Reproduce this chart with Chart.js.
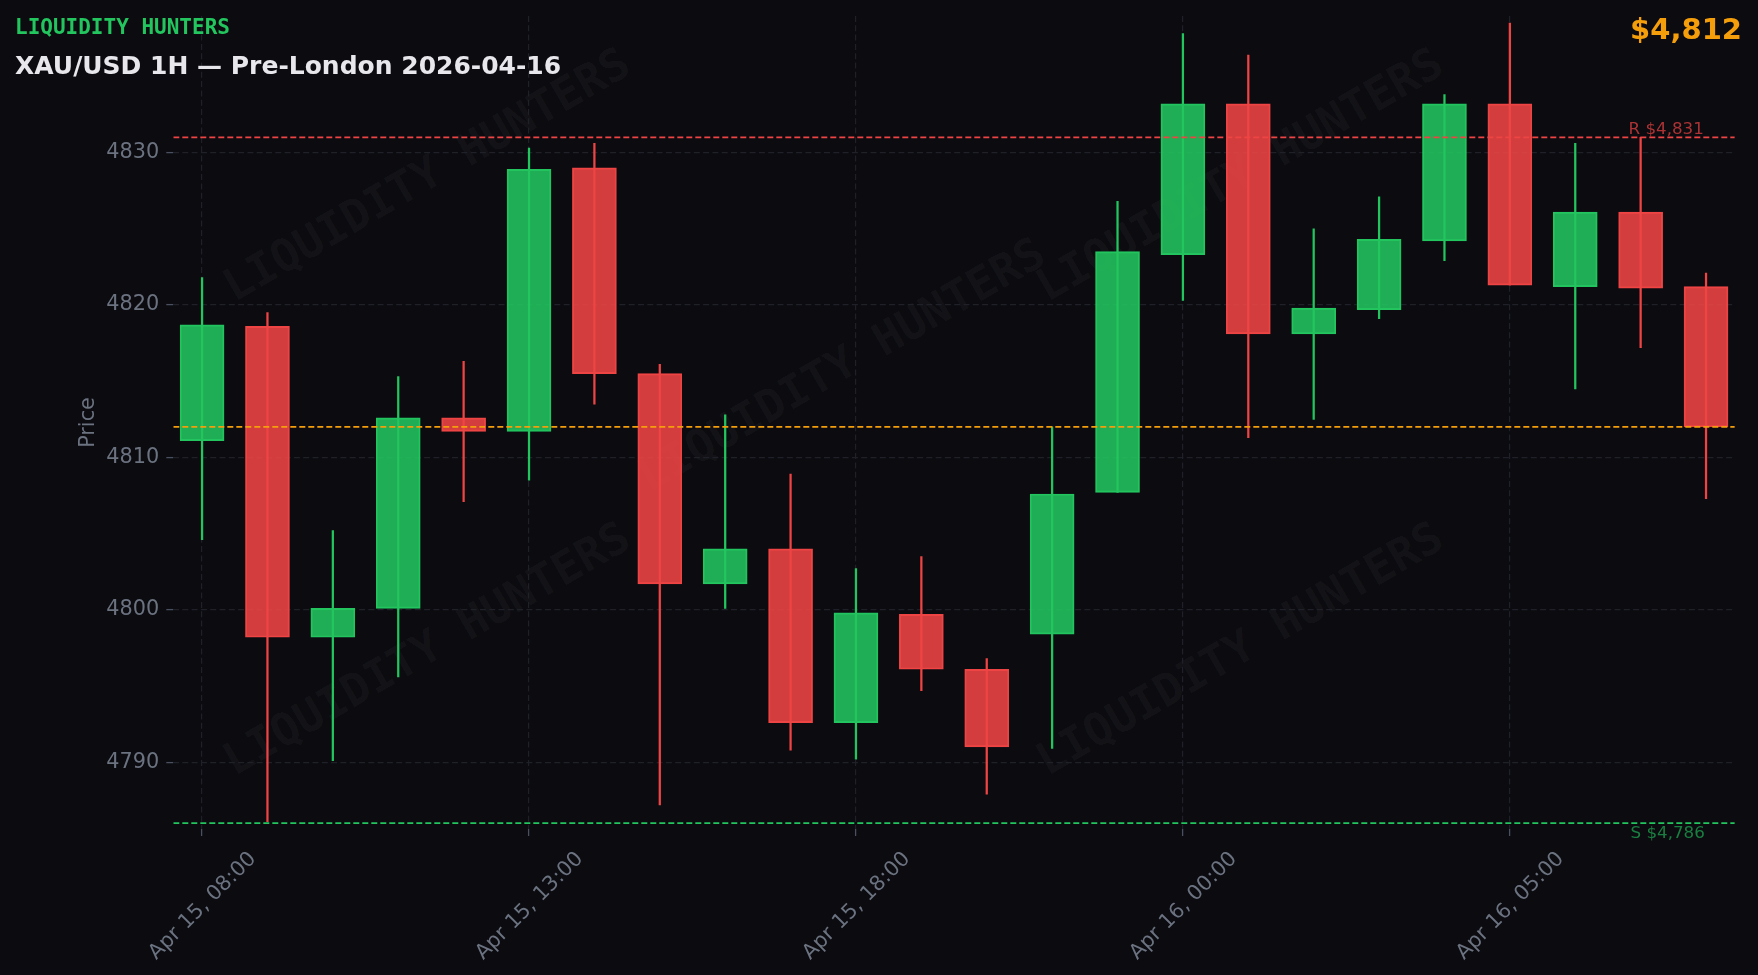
<!DOCTYPE html>
<html>
<head>
<meta charset="utf-8">
<script src="https://cdn.jsdelivr.net/npm/chart.js@4.4.1/dist/chart.umd.min.js"></script>
<style>
  html, body { margin: 0; padding: 0; background: #0b0b10; overflow: hidden; }
  #wrap { position: relative; width: 1758px; height: 975px; }
  #chart { position: absolute; left: 0; top: 0; z-index: 2; }
  .hdr { position: absolute; line-height: 1; white-space: nowrap; z-index: 3; }
  #brand { left: 15px; top: 14.5px; font: bold 21px "DejaVu Sans Mono", monospace; color: #22c55e; }
  #title { left: 15px; top: 51px; font: bold 25px "DejaVu Sans", sans-serif; color: #e8e8ec; }
  #last { right: 16px; top: 11.5px; font: bold 29px "DejaVu Sans", sans-serif; color: #f59e0b; }
  .wm {
    position: absolute; z-index: 1; line-height: 1; white-space: nowrap;
    font: bold 45px "DejaVu Sans Mono", monospace; color: rgba(255,255,255,0.045);
    transform: translate(-50%, -50%) rotate(-30deg);
  }
</style>
</head>
<body>
<div id="wrap">
  <div class="wm" style="left:426px;top:174px">LIQUIDITY HUNTERS</div>
  <div class="wm" style="left:841px;top:364px">LIQUIDITY HUNTERS</div>
  <div class="wm" style="left:1239px;top:174px">LIQUIDITY HUNTERS</div>
  <div class="wm" style="left:426px;top:648px">LIQUIDITY HUNTERS</div>
  <div class="wm" style="left:1239px;top:648px">LIQUIDITY HUNTERS</div>
  <canvas id="chart" width="1758" height="975"></canvas>
  <div class="hdr" id="brand">LIQUIDITY HUNTERS</div>
  <div class="hdr" id="title">XAU/USD 1H — Pre-London 2026-04-16</div>
  <div class="hdr" id="last">$4,812</div>
</div>
<script>
// Candle times (one per bar, index based x axis)
const TIMES = [
  'Apr 15, 08:00', 'Apr 15, 09:00', 'Apr 15, 10:00', 'Apr 15, 11:00', 'Apr 15, 12:00',
  'Apr 15, 13:00', 'Apr 15, 14:00', 'Apr 15, 15:00', 'Apr 15, 16:00', 'Apr 15, 17:00',
  'Apr 15, 18:00', 'Apr 15, 19:00', 'Apr 15, 20:00', 'Apr 15, 22:00', 'Apr 15, 23:00',
  'Apr 16, 00:00', 'Apr 16, 01:00', 'Apr 16, 02:00', 'Apr 16, 03:00', 'Apr 16, 04:00',
  'Apr 16, 05:00', 'Apr 16, 06:00', 'Apr 16, 07:00', 'Apr 16, 08:00'
];

// OHLC
const OPENS  = [4811.1, 4818.6, 4798.2, 4800.1, 4812.6, 4811.7, 4829.0, 4815.5, 4801.7, 4804.0, 4792.6, 4799.7,
                4796.1, 4798.4, 4807.7, 4823.3, 4833.2, 4818.1, 4819.7, 4824.2, 4833.2, 4821.2, 4826.1, 4821.2];
const HIGHS  = [4821.8, 4819.5, 4805.2, 4815.3, 4816.3, 4830.3, 4830.6, 4816.1, 4812.8, 4808.9, 4802.7, 4803.5,
                4796.8, 4812.0, 4826.8, 4837.8, 4836.4, 4825.0, 4827.1, 4833.8, 4838.5, 4830.6, 4831.0, 4822.1];
const LOWS   = [4804.6, 4786.1, 4790.1, 4795.6, 4807.1, 4808.5, 4813.5, 4787.2, 4800.1, 4790.8, 4790.2, 4794.7,
                4787.9, 4790.9, 4807.7, 4820.3, 4811.3, 4812.5, 4819.1, 4822.9, 4821.3, 4814.5, 4817.2, 4807.3];
const CLOSES = [4818.7, 4798.2, 4800.1, 4812.6, 4811.7, 4828.9, 4815.5, 4801.7, 4804.0, 4792.6, 4799.8, 4796.1,
                4791.0, 4807.6, 4823.5, 4833.2, 4818.1, 4819.8, 4824.3, 4833.2, 4821.3, 4826.1, 4821.1, 4812.0];

// Levels
const LEVEL_R = 4831;
const LEVEL_S = 4786;
const LAST_PRICE = 4812;

// Axes
const Y_TICKS = [4790, 4800, 4810, 4820, 4830];
const X_TICKS = [0, 5, 10, 15, 20];
const Y_MIN = 4785.62, Y_MAX = 4838.96;
const X_MIN = -0.44, X_MAX = 23.44;

const GREEN = '#22c55e';
const RED = '#ef4444';
const ORANGE = '#f59e0b';
const TXT = '#6b7280';
const GRID = '#1f2028';
const TICK_MARK = '#4b5060';

const isUp = CLOSES.map((c, i) => c >= OPENS[i]);
const edge = isUp.map(u => u ? GREEN : RED);
const fill = isUp.map(u => u ? 'rgba(34,197,94,0.88)' : 'rgba(239,68,68,0.88)');

function money(v) {
    return v.toString().replace(/\B(?=(\d{3})+(?!\d))/g, ',');
}

function levelLine(value, color) {
    return {
        type: 'line',
        data: [{ x: X_MIN, y: value }, { x: X_MAX, y: value }],
        borderColor: color,
        borderWidth: 1.7,
        borderDash: [6, 3],
        pointRadius: 0,
        order: 0
    };
}

// R / S captions next to the level lines
const levelLabels = {
    id: 'levelLabels',
    afterDatasetsDraw(chart) {
        const { ctx, chartArea, scales: { y } } = chart;
        ctx.save();
        ctx.font = '16.7px "DejaVu Sans"';
        ctx.textAlign = 'right';
        ctx.textBaseline = 'alphabetic';
        ctx.fillStyle = 'rgba(239,68,68,0.7)';
        ctx.fillText('R $' + money(LEVEL_R), chartArea.right - 31, y.getPixelForValue(LEVEL_R) - 3);
        ctx.fillStyle = 'rgba(34,197,94,0.62)';
        ctx.fillText('S $' + money(LEVEL_S), chartArea.right - 30, y.getPixelForValue(LEVEL_S) + 14.8);
        ctx.restore();
    }
};

// keep the plot box where the reference has it
function noPad(s) {
    s.paddingTop = 0; s.paddingBottom = 0; s.paddingLeft = 0; s.paddingRight = 0;
}

Chart.defaults.font.family = '"DejaVu Sans", sans-serif';

new Chart(document.getElementById('chart'), {
    type: 'bar',
    data: {
        datasets: [
            levelLine(LEVEL_R, RED),
            levelLine(LEVEL_S, GREEN),
            levelLine(LAST_PRICE, ORANGE),
            {
                // candle bodies
                type: 'bar',
                data: OPENS.map((o, i) => ({ x: i, y: [o, CLOSES[i]] })),
                backgroundColor: fill,
                borderColor: edge,
                borderWidth: 1.3,
                borderSkipped: false,
                barThickness: 44,
                grouped: false,
                order: 1
            },
            {
                // wicks
                type: 'bar',
                data: LOWS.map((l, i) => ({ x: i, y: [l, HIGHS[i]] })),
                backgroundColor: edge,
                borderWidth: 0,
                barThickness: 1.6,
                grouped: false,
                order: 2
            }
        ]
    },
    options: {
        responsive: false,
        animation: false,
        events: [],
        layout: { padding: { top: 16, right: 23.2, bottom: 0, left: 0 } },
        plugins: {
            legend: { display: false },
            tooltip: { enabled: false }
        },
        scales: {
            x: {
                type: 'linear',
                min: X_MIN,
                max: X_MAX,
                offset: false,
                grid: { color: GRID, lineWidth: 1.2, offset: false, tickLength: 7, tickColor: TICK_MARK, tickWidth: 1.3 },
                border: { display: false, dash: [6, 3.3] },
                afterBuildTicks: s => { s.ticks = X_TICKS.map(v => ({ value: v })); },
                afterFit: s => { s.height = 975 - 829; noPad(s); },
                ticks: {
                    autoSkip: false,
                    minRotation: 45,
                    maxRotation: 45,
                    color: TXT,
                    font: { size: 20.8 },
                    padding: 11,
                    labelOffset: 51,
                    callback: v => TIMES[v]
                }
            },
            y: {
                type: 'linear',
                min: Y_MIN,
                max: Y_MAX,
                beginAtZero: false,
                grid: { color: GRID, lineWidth: 1.2, tickLength: 7, tickColor: TICK_MARK, tickWidth: 1.3 },
                border: { display: false, dash: [6, 3.3] },
                afterBuildTicks: s => { s.ticks = Y_TICKS.map(v => ({ value: v })); },
                afterFit: s => { s.width = 173.3; noPad(s); },
                ticks: { color: TXT, font: { size: 20.8 }, padding: 7, callback: v => String(v) },
                title: { display: true, text: 'Price', color: TXT, font: { size: 20.8 }, padding: { top: 76, bottom: 0 } }
            }
        }
    },
    plugins: [levelLabels]
});
</script>
</body>
</html>
